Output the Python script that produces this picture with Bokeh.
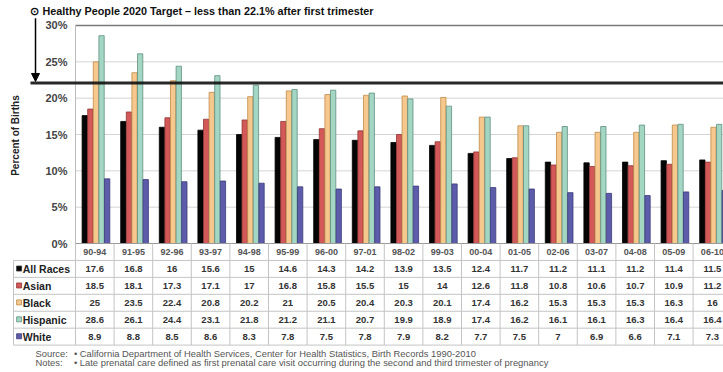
from bokeh.plotting import figure
from bokeh.models import Range1d, Arrow, NormalHead
from bokeh.core.properties import value
from bokeh.embed import file_html
from bokeh.resources import INLINE
import math

# ---------------- data ----------------
periods = ["90-94", "91-95", "92-96", "93-97", "94-98", "95-99", "96-00", "97-01", "98-02",
           "99-03", "00-04", "01-05", "02-06", "03-07", "04-08", "05-09", "06-10"]
all_races = [17.6, 16.8, 16, 15.6, 15, 14.6, 14.3, 14.2, 13.9, 13.5, 12.4, 11.7, 11.2, 11.1, 11.2, 11.4, 11.5]
asian = [18.5, 18.1, 17.3, 17.1, 17, 16.8, 15.8, 15.5, 15, 14, 12.6, 11.8, 10.8, 10.6, 10.7, 10.9, 11.2]
black = [25, 23.5, 22.4, 20.8, 20.2, 21, 20.5, 20.4, 20.3, 20.1, 17.4, 16.2, 15.3, 15.3, 15.3, 16.3, 16]
hispanic = [28.6, 26.1, 24.4, 23.1, 21.8, 21.2, 21.1, 20.7, 19.9, 18.9, 17.4, 16.2, 16.1, 16.1, 16.3, 16.4, 16.4]
white = [8.9, 8.8, 8.5, 8.6, 8.3, 7.8, 7.5, 7.8, 7.9, 8.2, 7.7, 7.5, 7, 6.9, 6.6, 7.1, 7.3]
series_names = ["All Races", "Asian", "Black", "Hispanic", "White"]
y_ticks = [0, 5, 10, 15, 20, 25, 30]
y_tick_labels = ["0%", "5%", "10%", "15%", "20%", "25%", "30%"]
target = 22.1
title_text = "\u2299 Healthy People 2020 Target \u2013 less than 22.1% after first trimester"
source_label = "Source:"
source_text = "\u2022  California Department of Health Services, Center for Health Statistics, Birth Records 1990-2010"
notes_label = "Notes:"
notes_text = "\u2022  Late prenatal care defined as first prenatal care visit occurring during the second and third trimester of pregnancy"

series_values = [all_races, asian, black, hispanic, white]
fills = ["#050505", "#d35858", "#f6c88e", "#a3d6c3", "#5d5cab"]
outlines = ["#000000", "#8e3434", "#c08a48", "#5f8f80", "#3a3a7a"]

FONT = value("Liberation Sans")

# ---------------- layout ----------------
W, H = 723, 372
p = figure(width=W, height=H, output_backend="svg", toolbar_location=None,
           x_range=Range1d(-1.943, 16.788), y_range=Range1d(-17.75, 33.44),
           x_axis_location=None, y_axis_location=None, min_border=0,
           outline_line_color=None, background_fill_color="white")
p.xgrid.visible = False
p.ygrid.visible = False

n = len(periods)
row_h = 2.33
label_left = -1.606
right_end = n + 1

# gridlines
grid_vals = y_ticks[1:-1]
p.segment(x0=[0] * len(grid_vals), x1=[right_end] * len(grid_vals), y0=grid_vals, y1=grid_vals,
          line_color="#d4d4d4", line_width=1)
p.segment(x0=[0], x1=[right_end], y0=[y_ticks[-1]], y1=[y_ticks[-1]], line_color="#7a7a7a", line_width=1.5)
p.segment(x0=[0], x1=[0], y0=[0], y1=[y_ticks[-1]], line_color="#bdbdbd", line_width=1)

# bars
bw = 0.145
base_c = 0.53
for k, (vals, fc, lc) in enumerate(zip(series_values, fills, outlines)):
    xs = [i + base_c + (k - 2) * bw for i in range(n)]
    p.vbar(x=xs, top=vals, bottom=0, width=bw * 0.95, fill_color=fc, line_color=lc, line_width=0.8)

# target line and arrow
p.segment(x0=[-1.166], x1=[right_end], y0=[target], y1=[target], line_color="#111111", line_width=3, line_alpha=0.9)
p.add_layout(Arrow(end=NormalHead(size=8, fill_color="black", line_color="black"),
                   x_start=-1.036, y_start=31.0, x_end=-1.036, y_end=target + 0.2,
                   line_color="black", line_width=1.5))

# title
p.text(x=[-1.166], y=[32.06], text=[title_text], text_font=FONT, text_font_size="10.8px",
       text_font_style="bold", text_color="#111111", text_baseline="middle", text_align="left")

# y tick labels
p.text(x=[-0.207] * len(y_ticks), y=y_ticks, text=y_tick_labels, text_font=FONT, text_font_size="11px",
       text_font_style="bold", text_color="#444444", text_align="right", text_baseline="middle")

# y axis title
p.text(x=[-1.55], y=[14.86], text=["Percent of Births"], angle=math.pi / 2, text_font=FONT,
       text_font_size="10px", text_font_style="bold", text_color="#222222",
       text_align="center", text_baseline="middle")

# ---------------- table ----------------
tl = "#c4c4c4"
row_lines = [-row_h * (r + 1) for r in range(6)]
p.segment(x0=[0], x1=[right_end], y0=[0], y1=[0], line_color="#9a9a9a", line_width=1)
p.segment(x0=[label_left] * len(row_lines), x1=[right_end] * len(row_lines), y0=row_lines, y1=row_lines,
          line_color=tl, line_width=1)
p.segment(x0=list(range(n + 1)), x1=list(range(n + 1)), y0=[0] * (n + 1), y1=[-6 * row_h] * (n + 1),
          line_color=tl, line_width=1)
p.segment(x0=[label_left], x1=[label_left], y0=[-row_h], y1=[-6 * row_h], line_color=tl, line_width=1)

centers = [i + 0.5 for i in range(n)]
p.text(x=centers, y=[-row_h / 2] * n, text=periods, text_font=FONT, text_font_size="9px",
       text_font_style="bold", text_color="#555555", text_align="center", text_baseline="middle")

for k, (name, vals, fc, lc) in enumerate(zip(series_names, series_values, fills, outlines)):
    yc = -row_h * (k + 1.5)
    p.text(x=centers, y=[yc] * n, text=[f"{v:g}" for v in vals], text_font=FONT, text_font_size="9.5px",
           text_font_style="bold", text_color="#333333", text_align="center", text_baseline="middle")
    p.rect(x=[label_left + 0.145], y=[yc + 0.05], width=5, height=5, width_units="screen",
           height_units="screen", fill_color=fc, line_color="#333333" if k == 0 else lc, line_width=0.8)
    p.text(x=[label_left + 0.24], y=[yc], text=[name], text_font=FONT, text_font_size="10.5px",
           text_font_style="bold", text_color="#222222", text_align="left", text_baseline="middle")

# source / notes
p.text(x=[-1.036, -1.036], y=[-15.14, -16.38], text=[source_label, notes_label], text_font=FONT,
       text_font_size="9.4px", text_color="#555555", text_baseline="middle")
p.text(x=[-0.04, -0.04], y=[-15.14, -16.38], text=[source_text, notes_text], text_font=FONT,
       text_font_size="9.4px", text_color="#555555", text_baseline="middle")

open("out.html", "w").write(file_html(p, INLINE))
